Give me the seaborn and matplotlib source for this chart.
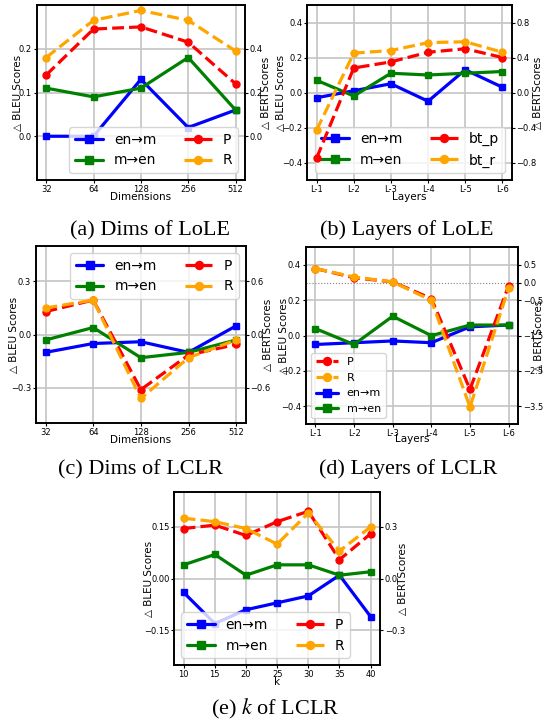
import matplotlib
matplotlib.use("Agg")
import matplotlib.pyplot as plt
import numpy as np
import pandas as pd
import seaborn as sns

# ---- (a) embedding dimensions of LoLE ----
dims = ["32", "64", "128", "256", "512"]
lole_dim_en_m = [0.00, 0.00, 0.13, 0.02, 0.06]
lole_dim_m_en = [0.11, 0.09, 0.11, 0.18, 0.06]
lole_dim_p = [0.28, 0.49, 0.50, 0.43, 0.24]
lole_dim_r = [0.36, 0.53, 0.575, 0.53, 0.39]

# ---- (b) layers of LoLE ----
layers = ["L-1", "L-2", "L-3", "L-4", "L-5", "L-6"]
lole_layer_en_m = [-0.03, 0.01, 0.05, -0.05, 0.13, 0.03]
lole_layer_m_en = [0.07, -0.02, 0.11, 0.10, 0.11, 0.12]
lole_layer_bt_p = [-0.75, 0.28, 0.35, 0.46, 0.50, 0.40]
lole_layer_bt_r = [-0.43, 0.45, 0.48, 0.57, 0.58, 0.46]

# ---- (c) embedding dimensions of LCLR ----
lclr_dim_en_m = [-0.10, -0.05, -0.04, -0.10, 0.05]
lclr_dim_m_en = [-0.03, 0.04, -0.13, -0.10, -0.03]
lclr_dim_p = [0.26, 0.39, -0.62, -0.23, -0.11]
lclr_dim_r = [0.30, 0.39, -0.72, -0.26, -0.06]

# ---- (d) layers of LCLR ----
lclr_layer_en_m = [-0.05, -0.04, -0.03, -0.04, 0.05, 0.06]
lclr_layer_m_en = [0.04, -0.05, 0.11, 0.00, 0.06, 0.06]
lclr_layer_p = [0.40, 0.14, 0.02, -0.45, -3.02, -0.09]
lclr_layer_r = [0.40, 0.16, 0.02, -0.50, -3.52, -0.15]

# ---- (e) k of LCLR ----
ks = [10, 15, 20, 25, 30, 35, 40]
lclr_k_en_m = [-0.04, -0.13, -0.09, -0.07, -0.05, 0.01, -0.11]
lclr_k_m_en = [0.04, 0.07, 0.01, 0.04, 0.04, 0.01, 0.02]
lclr_k_p = [0.29, 0.31, 0.25, 0.33, 0.39, 0.11, 0.26]
lclr_k_r = [0.35, 0.33, 0.29, 0.20, 0.38, 0.16, 0.30]

COLORS = {"en→m": "blue", "m→en": "green", "P": "red", "R": "orange",
          "bt_p": "red", "bt_r": "orange"}

sns.set_theme(style="whitegrid", rc={
    "axes.edgecolor": "black",
    "axes.linewidth": 1.2,
    "grid.color": "#c4c4c4",
    "grid.linewidth": 1.2,
    "xtick.bottom": True,
    "ytick.left": True,
    "xtick.major.size": 2.5,
    "ytick.major.size": 2.5,
    "xtick.major.width": 0.8,
    "ytick.major.width": 0.8,
    "xtick.major.pad": 1.0,
    "ytick.major.pad": 1.0,
    "xtick.color": "black",
    "ytick.color": "black",
    "xtick.labelsize": 6,
    "ytick.labelsize": 6,
    "axes.labelsize": 7.5,
    "axes.labelcolor": "black",
    "text.color": "black",
    "legend.frameon": True,
    "legend.framealpha": 0.8,
    "legend.edgecolor": "0.8",
    "legend.fancybox": True,
    "mathtext.fontset": "stix",
})
plt.rcParams["font.family"] = ["DejaVu Sans"]

W, H = 548, 725
fig = plt.figure(figsize=(W / 100, H / 100), dpi=100)


def px_rect(l, t, r, b):
    return [l / W, 1 - b / H, (r - l) / W, (b - t) / H]


def series(ax, xvals, vals, name, marker, ls):
    c = COLORS[name]
    df = pd.DataFrame({"x": xvals, "y": vals})
    sns.lineplot(data=df, x="x", y="y", ax=ax, color=c, marker=marker,
                 markersize=5, markeredgecolor=c, markeredgewidth=1,
                 linewidth=2.3, linestyle=ls, label=name, legend=False,
                 sort=False, errorbar=None)


def panel(box, xvals, bleu, bert, xlabel, bleu_ticks, bleu_lim, bert_ticks,
          bert_lim, leg_loc, leg_ncol, leg_size, leg_order, ylab_px,
          xlab_off, xticks=None, zero_line=False):
    l, t, r, b = box
    ax = fig.add_axes(px_rect(l, t, r, b))
    ax2 = ax.twinx()
    for name, vals in bleu.items():
        series(ax, xvals, vals, name, "s", "-")
    for name, vals in bert.items():
        series(ax2, xvals, vals, name, "o", "--")
    if zero_line:
        ax2.axhline(0, color="gray", linestyle=":", linewidth=0.8, zorder=0)

    if xticks is None:
        n = len(xvals) - 1
        ax.set_xlim(-0.05 * n, n * 1.05)
    else:
        span = xticks[-1] - xticks[0]
        ax.set_xlim(xticks[0] - 0.05 * span, xticks[-1] + 0.05 * span)
        ax.set_xticks(xticks)

    ax.set_ylim(*bleu_lim)
    ax.set_yticks(bleu_ticks)
    ax2.set_ylim(*bert_lim)
    ax2.set_yticks(bert_ticks)
    ax2.grid(False)
    ax.grid(True)
    for a in (ax, ax2):
        for s in a.spines.values():
            s.set_color("black")
            s.set_linewidth(1.2)
    ax2.tick_params(axis="y", right=True, length=2.5, width=0.8, pad=1.0)

    ax.set_xlabel(xlabel, va="center")
    ax.xaxis.set_label_coords(0.5, -xlab_off / (b - t))
    ax.set_ylabel("△ BLEU Scores", va="center", ha="center",
                  rotation_mode="anchor")
    ax.yaxis.set_label_coords((ylab_px[0] - l) / (r - l), 0.5)
    ax2.set_ylabel("△ BERTScores", va="center", ha="center",
                   rotation_mode="anchor", rotation=90)
    ax2.yaxis.set_label_coords((ylab_px[1] - l) / (r - l), 0.5)
    ax2.set_xlabel("")

    hs = dict(zip(*ax.get_legend_handles_labels()[::-1]))
    hs.update(dict(zip(*ax2.get_legend_handles_labels()[::-1])))
    ax.legend([hs[k] for k in leg_order], leg_order, loc=leg_loc,
              ncol=leg_ncol, fontsize=leg_size, numpoints=1, markerscale=1.15)
    return ax, ax2


def caption(x, y, text):
    fig.text(x / W, 1 - y / H, text, ha="center", va="baseline",
             fontsize=16, family="Liberation Serif")


# (a)
panel((36.7, 5, 245, 180), dims,
      {"en→m": lole_dim_en_m, "m→en": lole_dim_m_en},
      {"P": lole_dim_p, "R": lole_dim_r},
      "Dimensions", [0.0, 0.1, 0.2], (-0.1, 0.3), [0.0, 0.2, 0.4], (-0.2, 0.6),
      "lower right", 2, 10, ["en→m", "m→en", "P", "R"], (18.5, 265.5), 17)
caption(150, 235, "(a) Dims of LoLE")

# (b)
panel((307.3, 5, 511.7, 180), layers,
      {"en→m": lole_layer_en_m, "m→en": lole_layer_m_en},
      {"bt_p": lole_layer_bt_p, "bt_r": lole_layer_bt_r},
      "Layers", [-0.4, -0.2, 0.0, 0.2, 0.4], (-0.5, 0.5),
      [-0.8, -0.4, 0.0, 0.4, 0.8], (-1.0, 1.0),
      "lower right", 2, 10, ["en→m", "m→en", "bt_p", "bt_r"], (281, 538), 17)
caption(407, 235, "(b) Layers of LoLE")

# (c)
panel((36, 246, 245.7, 423.3), dims,
      {"en→m": lclr_dim_en_m, "m→en": lclr_dim_m_en},
      {"P": lclr_dim_p, "R": lclr_dim_r},
      "Dimensions", [-0.3, 0.0, 0.3], (-0.5, 0.5), [-0.6, 0.0, 0.6], (-1.0, 1.0),
      "upper right", 2, 10, ["en→m", "m→en", "P", "R"], (14, 268), 17)
caption(140, 474, "(c) Dims of LCLR")

# (d)
panel((305.7, 247.3, 518.3, 424), layers,
      {"en→m": lclr_layer_en_m, "m→en": lclr_layer_m_en},
      {"P": lclr_layer_p, "R": lclr_layer_r},
      "Layers", [-0.4, -0.2, 0.0, 0.2, 0.4], (-0.5, 0.5),
      [-3.5, -2.5, -1.5, -0.5, 0.0, 0.5], (-4.0, 1.0),
      "lower left", 1, 8, ["P", "R", "en→m", "m→en"], (284, 539), 15,
      zero_line=True)
caption(408, 474, "(d) Layers of LCLR")

# (e)
panel((174.3, 492.3, 380, 665), ks,
      {"en→m": lclr_k_en_m, "m→en": lclr_k_m_en},
      {"P": lclr_k_p, "R": lclr_k_r},
      "k", [-0.15, 0.0, 0.15], (-0.25, 0.25), [-0.3, 0.0, 0.3], (-0.5, 0.5),
      "lower left", 2, 10, ["en→m", "m→en", "P", "R"], (149, 403.5), 17,
      xticks=ks)
caption(275, 714, "(e) $k$ of LCLR")

fig.savefig("out.png", dpi=100)
